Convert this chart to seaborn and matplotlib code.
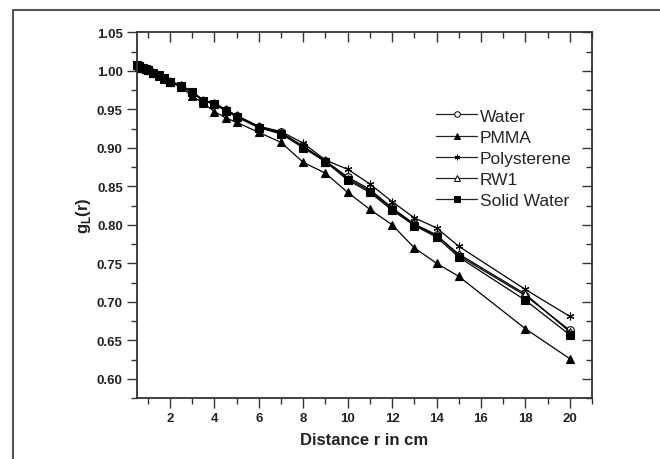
import matplotlib
matplotlib.use("Agg")
import matplotlib.pyplot as plt
import seaborn as sns
import pandas as pd
from matplotlib.ticker import MultipleLocator
from matplotlib.lines import Line2D

# radial distance (cm)
r = [0.5, 0.6, 0.7, 0.8, 0.9, 1.0, 1.25, 1.5, 1.75, 2, 2.5, 3, 3.5, 4, 4.5,
     5, 6, 7, 8, 9, 10, 11, 12, 13, 14, 15, 18, 20]

water = [1.008, 1.006, 1.004, 1.003, 1.002, 1.001, 0.997, 0.994, 0.990, 0.986,
         0.980, 0.972, 0.961, 0.957, 0.949, 0.941, 0.927, 0.920, 0.902, 0.883,
         0.862, 0.846, 0.822, 0.801, 0.787, 0.760, 0.708, 0.663]
pmma = [1.008, 1.006, 1.004, 1.003, 1.002, 1.001, 0.997, 0.993, 0.989, 0.985,
        0.979, 0.967, 0.958, 0.947, 0.939, 0.933, 0.920, 0.907, 0.881, 0.867,
        0.842, 0.820, 0.800, 0.770, 0.750, 0.733, 0.665, 0.626]
polystyrene = [1.009, 1.007, 1.005, 1.004, 1.003, 1.002, 0.998, 0.995, 0.991, 0.987,
               0.981, 0.973, 0.962, 0.958, 0.950, 0.942, 0.928, 0.921, 0.906, 0.884,
               0.872, 0.853, 0.830, 0.809, 0.796, 0.772, 0.716, 0.681]
rw1 = [1.008, 1.006, 1.004, 1.003, 1.002, 1.001, 0.997, 0.994, 0.990, 0.986,
       0.980, 0.972, 0.961, 0.957, 0.949, 0.941, 0.927, 0.919, 0.901, 0.882,
       0.860, 0.844, 0.821, 0.800, 0.786, 0.762, 0.710, 0.661]
solid_water = [1.008, 1.006, 1.004, 1.003, 1.002, 1.001, 0.997, 0.994, 0.990, 0.986,
               0.980, 0.972, 0.961, 0.957, 0.948, 0.940, 0.926, 0.918, 0.900, 0.882,
               0.858, 0.842, 0.819, 0.799, 0.784, 0.758, 0.702, 0.657]

series = {
    "Water": water,
    "PMMA": pmma,
    "Polysterene": polystyrene,
    "RW1": rw1,
    "Solid Water": solid_water,
}
# marker, facecolor
styles = {
    "Water": ("o", "white"),
    "PMMA": ("^", "black"),
    "Polysterene": ((6, 2, 0), "black"),
    "RW1": ("^", "white"),
    "Solid Water": ("s", "black"),
}

x_ticks = [2, 4, 6, 8, 10, 12, 14, 16, 18, 20]
y_ticks = [0.60, 0.65, 0.70, 0.75, 0.80, 0.85, 0.90, 0.95, 1.00, 1.05]

sns.set_style("white")
plt.rcParams["font.family"] = ["Liberation Sans", "DejaVu Sans"]

fig = plt.figure(figsize=(6.6, 4.6), dpi=100)
ax = fig.add_axes([136.7 / 660, 1 - 399 / 460, (592 - 136.7) / 660, (399 - 33.3) / 460])

handles = []
for name, vals in series.items():
    mk, fc = styles[name]
    df = pd.DataFrame({"r": r, "g": vals})
    sns.lineplot(data=df, x="r", y="g", ax=ax, color="black", linewidth=0.9,
                 marker=mk, markersize=5.5, markerfacecolor=fc,
                 markeredgecolor="black", markeredgewidth=0.8, clip_on=False)
    handles.append(Line2D([], [], color="#222222", linewidth=0.9, marker=mk,
                          markersize=4, markerfacecolor=fc,
                          markeredgecolor="black", markeredgewidth=0.7))

ax.set_xlim(0.5, 21)
ax.set_ylim(0.575, 1.05)
ax.set_xticks(x_ticks)
ax.set_yticks(y_ticks)
ax.xaxis.set_minor_locator(MultipleLocator(1))
ax.yaxis.set_minor_locator(MultipleLocator(0.025))

for sp in ax.spines.values():
    sp.set_color("#333333")
    sp.set_linewidth(1.3)

ax.tick_params(which="major", direction="out", length=7, width=1, color="#333333",
               labelsize=9.5, labelcolor="#222222", bottom=True, left=True, pad=3)
ax.tick_params(which="minor", direction="out", length=4, width=1, color="#333333",
               bottom=True, left=True)
for lab in ax.get_xticklabels() + ax.get_yticklabels():
    lab.set_fontweight("bold")

top = ax.secondary_xaxis("top")
top.set_xticks(x_ticks)
top.xaxis.set_minor_locator(MultipleLocator(1))
top.tick_params(which="major", direction="in", length=7, width=1, color="#333333", labeltop=False)
top.tick_params(which="minor", direction="in", length=4, width=1, color="#333333")
top.spines["top"].set_visible(False)

right = ax.secondary_yaxis("right")
right.set_yticks(y_ticks)
right.yaxis.set_minor_locator(MultipleLocator(0.025))
right.tick_params(which="major", direction="in", length=7, width=1, color="#333333", labelright=False)
right.tick_params(which="minor", direction="in", length=4, width=1, color="#333333")
right.spines["right"].set_visible(False)

ax.set_xlabel("Distance r in cm", fontsize=12, fontweight="bold", color="#222222", labelpad=6)
ax.set_ylabel(r"g$_\mathregular{L}$(r)", fontsize=12, fontweight="bold", color="#222222", labelpad=3)

ax.legend(handles, list(series.keys()), loc="upper left", bbox_to_anchor=(0.657, 0.792),
          frameon=False, fontsize=12.5, handlelength=2.4, handletextpad=0.12,
          labelspacing=0.35, borderpad=0, borderaxespad=0)

# gray frame around the figure (top and left visible)
fig.add_artist(Line2D([13 / 660, 1], [1 - 11 / 460, 1 - 11 / 460], color="#555555", linewidth=1.5))
fig.add_artist(Line2D([13 / 660, 13 / 660], [1 - 11 / 460, 0], color="#555555", linewidth=1.5))

fig.savefig("out.png", dpi=100)
